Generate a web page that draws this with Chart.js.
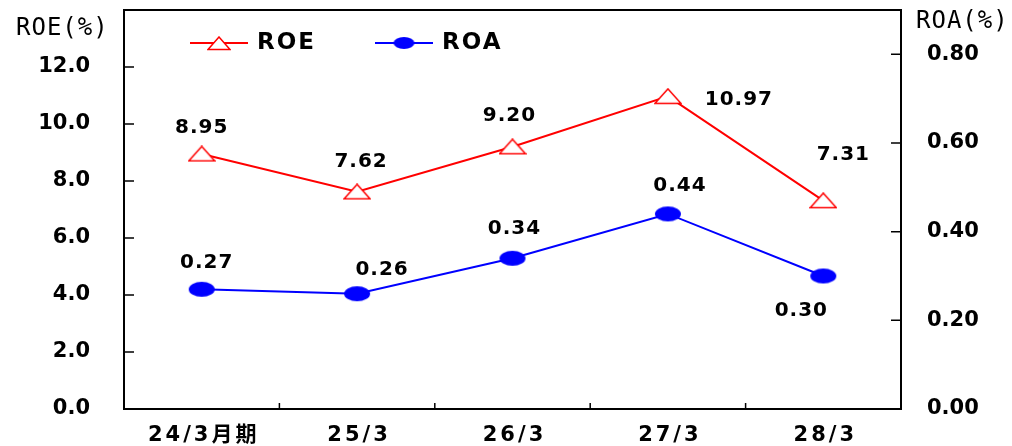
<!DOCTYPE html>
<html>
<head>
<meta charset="utf-8">
<script src="https://cdn.jsdelivr.net/npm/chart.js@4/dist/chart.umd.min.js"></script>
<style>
  body { margin: 0; background: #fff; overflow: hidden; }
  canvas { display: block; }
</style>
</head>
<body>
<canvas id="myChart" width="1012" height="446"></canvas>
<script>
// data
const periods = ["24/3月期", "25/3", "26/3", "27/3", "28/3"];
const roeValues = [8.95, 7.62, 9.20, 10.97, 7.31];
const roaValues = [0.27, 0.26, 0.34, 0.44, 0.30];
const roeLabels = ["8.95", "7.62", "9.20", "10.97", "7.31"];
const roaLabels = ["0.27", "0.26", "0.34", "0.44", "0.30"];

// label offsets from each point (px)
const roeOffsets = [[0, -26], [4, -30], [-3, -31], [71, 3], [20, -46]];
const roaOffsets = [[5, -27], [25, -24], [2, -29], [12, -28], [-22, 35]];

const numFont = "bold 20px 'DejaVu Sans'";

// markers
function makeTriangle(w, h) {
    const c = document.createElement('canvas');
    c.width = w; c.height = h;
    const g = c.getContext('2d');
    g.beginPath();
    g.moveTo(1, h - 1.5);
    g.lineTo(w - 1, h - 1.5);
    g.lineTo(w / 2, 1);
    g.closePath();
    g.fillStyle = '#fff';
    g.fill();
    g.strokeStyle = '#ff0000';
    g.lineWidth = 1.5;
    g.stroke();
    return c;
}

function makeEllipse(w, h) {
    const c = document.createElement('canvas');
    c.width = w; c.height = h;
    const g = c.getContext('2d');
    g.beginPath();
    g.ellipse(w / 2, h / 2, w / 2 - 1, h / 2 - 1, 0, 0, Math.PI * 2);
    g.fillStyle = '#0000ff';
    g.fill();
    return c;
}

const triMark = makeTriangle(28, 17);
const dotMark = makeEllipse(28, 17);
const triLegend = makeTriangle(24, 15);
const dotLegend = makeEllipse(23, 14);

// no extra room for tick labels above/below
function fixVertical(width) {
    return s => {
        s.width = width;
        s.paddingTop = 0;
        s.paddingBottom = 0;
    };
}

// frame, inward ticks, x labels, titles, legend
const decorPlugin = {
    id: 'decor',
    afterDatasetsDraw(chart) {
        const ctx = chart.ctx;
        const sets = [[0, roeLabels, roeOffsets], [1, roaLabels, roaOffsets]];
        ctx.save();
        ctx.font = numFont;
        ctx.letterSpacing = '1px';
        ctx.fillStyle = '#000';
        ctx.textAlign = 'center';
        ctx.textBaseline = 'middle';
        sets.forEach(([idx, labels, offs]) => {
            chart.getDatasetMeta(idx).data.forEach((pt, i) => {
                ctx.fillText(labels[i], pt.x + offs[i][0], pt.y + offs[i][1]);
            });
        });
        ctx.restore();
    },
    afterDraw(chart) {
        const ctx = chart.ctx;
        const a = chart.chartArea;
        const x = chart.scales.x;
        const y = chart.scales.y;
        const y1 = chart.scales.y1;

        ctx.save();
        ctx.strokeStyle = '#000';
        ctx.lineWidth = 2;
        ctx.strokeRect(a.left, a.top, a.right - a.left, a.bottom - a.top);

        // ticks pointing in
        ctx.lineWidth = 1.5;
        ctx.beginPath();
        y.ticks.forEach(t => {
            if (t.value <= 0 || t.value > 12.5) return;
            const py = y.getPixelForValue(t.value);
            ctx.moveTo(a.left, py); ctx.lineTo(a.left + 10, py);
        });
        y1.ticks.forEach(t => {
            if (t.value <= 0 || t.value > 0.85) return;
            const py = y1.getPixelForValue(t.value);
            ctx.moveTo(a.right - 10, py); ctx.lineTo(a.right, py);
        });
        for (let i = 0; i < periods.length - 1; i++) {
            const px = (x.getPixelForValue(i) + x.getPixelForValue(i + 1)) / 2;
            ctx.moveTo(px, a.bottom); ctx.lineTo(px, a.bottom - 6);
        }
        ctx.stroke();

        // category labels
        ctx.fillStyle = '#000';
        ctx.font = "bold 21px 'DejaVu Sans', 'Noto Sans CJK JP'";
        ctx.letterSpacing = '3px';
        ctx.textAlign = 'center';
        ctx.textBaseline = 'middle';
        periods.forEach((p, i) => {
            ctx.fillText(p, x.getPixelForValue(i) + 2, 436);
        });

        // axis titles
        ctx.font = "24px 'DejaVu Sans Mono'";
        ctx.letterSpacing = '1px';
        ctx.textAlign = 'left';
        ctx.fillText("ROE(%)", 16, 29);
        ctx.fillText("ROA(%)", 916, 22);

        // legend
        ctx.lineWidth = 2;
        ctx.strokeStyle = '#ff0000';
        ctx.beginPath(); ctx.moveTo(190, 43); ctx.lineTo(248, 43); ctx.stroke();
        ctx.drawImage(triLegend, 219 - 12, 36);
        ctx.strokeStyle = '#0000ff';
        ctx.beginPath(); ctx.moveTo(375, 43); ctx.lineTo(433, 43); ctx.stroke();
        ctx.drawImage(dotLegend, 404 - 11.5, 36);
        ctx.font = "bold 23px 'DejaVu Sans'";
        ctx.letterSpacing = '2px';
        ctx.fillText("ROE", 257, 43);
        ctx.fillText("ROA", 442, 43);
        ctx.restore();
    }
};

const ctx = document.getElementById('myChart');

new Chart(ctx, {
    type: 'line',
    data: {
        labels: periods,
        datasets: [{
            label: "ROE",
            data: roeValues,
            yAxisID: 'y',
            borderColor: '#ff0000',
            borderWidth: 2,
            pointStyle: triMark,
            pointRadius: 8,
            tension: 0
        }, {
            label: "ROA",
            data: roaValues,
            yAxisID: 'y1',
            borderColor: '#0000ff',
            borderWidth: 2,
            pointStyle: dotMark,
            pointRadius: 8,
            tension: 0
        }]
    },
    options: {
        responsive: false,
        animation: false,
        devicePixelRatio: 1,
        layout: { padding: { top: 9, left: 0, right: 0, bottom: 0 } },
        plugins: {
            legend: { display: false },
            tooltip: { enabled: false }
        },
        scales: {
            x: {
                type: 'category',
                offset: true,
                grid: { display: false, drawTicks: false },
                border: { display: false },
                ticks: { display: false },
                afterFit: s => {
                    s.height = 37;
                    s.paddingLeft = 0;
                    s.paddingRight = 0;
                }
            },
            y: {
                position: 'left',
                min: 0,
                max: 14,
                grid: { display: false, drawTicks: false },
                border: { display: false },
                ticks: {
                    stepSize: 2,
                    padding: 34,
                    color: '#000',
                    font: { family: 'DejaVu Sans', size: 21, weight: 'bold' },
                    callback: v => v > 12.5 ? '' : v.toFixed(1)
                },
                afterFit: fixVertical(124)
            },
            y1: {
                position: 'right',
                min: 0,
                max: 0.9,
                grid: { display: false, drawTicks: false },
                border: { display: false },
                ticks: {
                    stepSize: 0.2,
                    padding: 26,
                    color: '#000',
                    font: { family: 'DejaVu Sans', size: 21, weight: 'bold' },
                    callback: v => v > 0.85 ? '' : v.toFixed(2)
                },
                afterFit: fixVertical(111)
            }
        }
    },
    plugins: [decorPlugin]
});
</script>
</body>
</html>
